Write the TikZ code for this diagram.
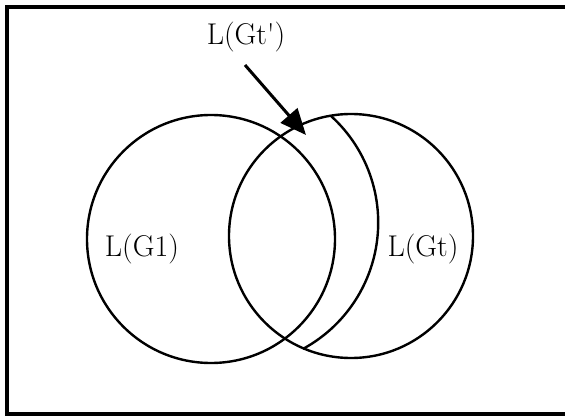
\documentclass[tikz,border=0pt]{standalone}
\usetikzlibrary{arrows.meta}
\begin{document}
\begin{tikzpicture}[x=1pt,y=-1pt,
  setline/.style={line width=2.4pt},
  setcirc/.style={circle,draw,setline,inner sep=0pt},
  lbl/.style={anchor=base,inner sep=0pt,font=\fontsize{30}{35}\selectfont},
  framestyle/.style={line width=4pt}]
\useasboundingbox (0,0) rectangle (565,417);
% frame (right side cut off in the reference)
\draw[framestyle] (565,7) -- (7,7) -- (7,414) -- (565,414);
% sets
\node[setcirc,minimum size=248pt] (g1) at (211,239) {};
\node[setcirc,minimum size=244pt] (gt) at (351,236) {};
\coordinate (arcstart) at (331,116);
\draw[setline] (arcstart) arc[start angle=-47.8,end angle=61.5,radius=143.8];
% labels
\node[lbl] (lg1) at (142,256) {L(G1)};
\node[lbl] (lgt) at (423,256) {L(Gt)};
\node[lbl] (lgtp) at (246,45) {L(Gt\textquotesingle)};
\coordinate (tip) at (306,135);
\coordinate (tail) at (245,65);
\draw[line width=3pt,-{Triangle[length=26pt,width=22pt]}] (tail) -- (tip);
\end{tikzpicture}
\end{document}
